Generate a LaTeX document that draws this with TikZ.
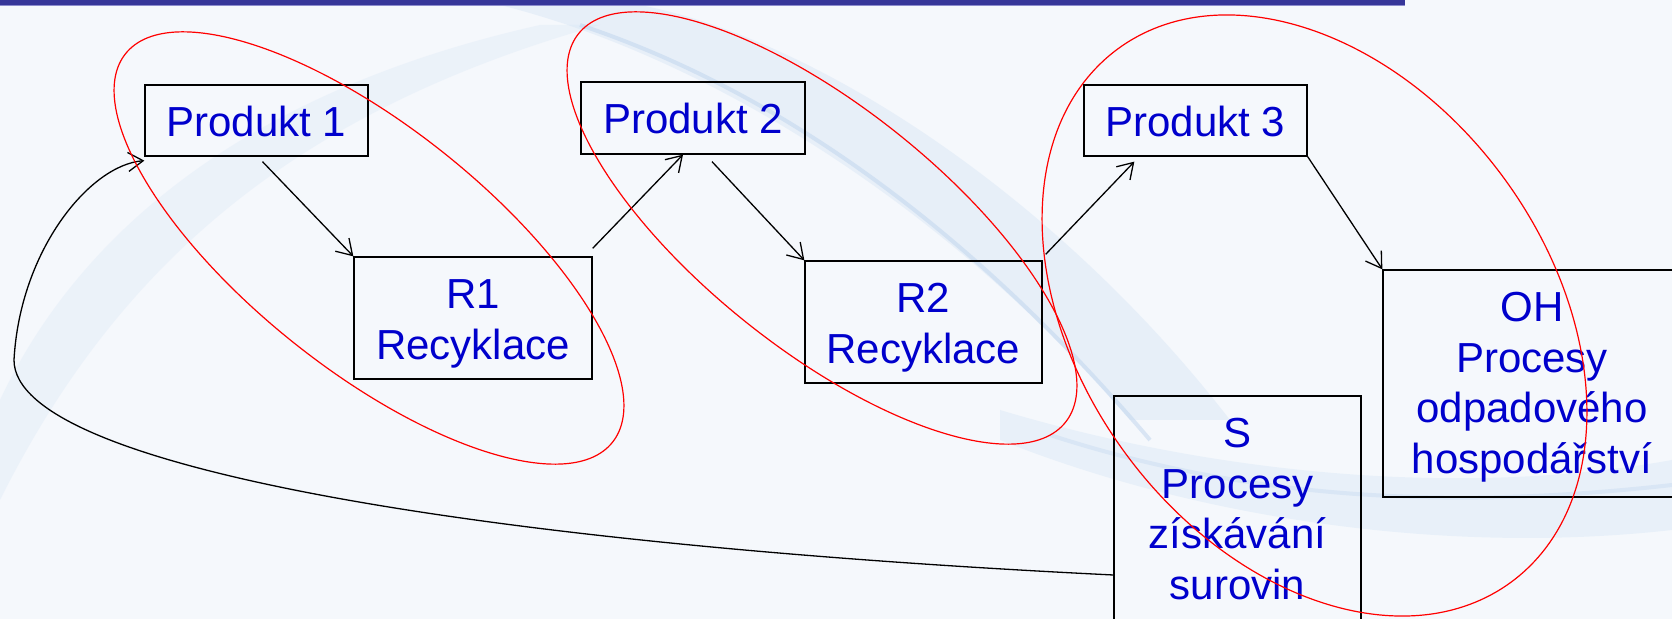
\documentclass[tikz,border=0pt]{standalone}
\usepackage{fontspec}
\setmainfont{Liberation Sans}
\usetikzlibrary{arrows.meta}
\definecolor{slidebar}{RGB}{54,54,153}
\definecolor{slideline}{RGB}{140,140,205}
\definecolor{slidebg}{RGB}{245,248,252}
\definecolor{swoosh}{RGB}{214,229,245}
\definecolor{streak}{RGB}{190,212,238}
\definecolor{textblue}{RGB}{0,0,204}
\definecolor{ringred}{RGB}{255,0,0}
\tikzstyle{arrow} = [line width=0.65pt,-{Straight Barb[length=7.5pt,width=9.5pt]}]
\tikzstyle{procbox} = [draw,line width=0.65pt,inner sep=0pt,text=textblue,font=\fontsize{21}{25.3}\selectfont]
\tikzstyle{ring} = [draw=ringred,line width=0.6pt]
\newcommand{\boxtext}[3]{\parbox[c][#2][t]{#1}{\centering\rule{0pt}{25.75pt}#3}}

\begin{document}
\begin{tikzpicture}[x=0.5pt,y=-0.5pt]
\useasboundingbox (0,0) rectangle (1672,619);
\clip (0,0) rectangle (1672,619);

% Slide background
\fill[slidebg] (0,0) rectangle (1672,619);
\fill[swoosh, opacity=0.3] (0,400) .. controls (80,230) and (250,90) .. (540,25)
    -- (600,25) .. controls (300,110) and (120,260) .. (0,500) -- cycle;
\fill[swoosh, opacity=0.45] (500,5) .. controls (720,60) and (960,220) .. (1130,420)
    -- (1230,420) .. controls (1060,200) and (820,40) .. (640,5) -- cycle;
\draw[streak, line width=2pt, opacity=0.5] (580,25) .. controls (790,95) and (980,240) .. (1150,440);
\fill[swoosh, opacity=0.4] (1000,410) .. controls (1200,470) and (1450,500) .. (1672,460)
    -- (1672,530) .. controls (1450,555) and (1200,520) .. (1000,440) -- cycle;
\draw[streak, line width=2pt, opacity=0.35] (1050,435) .. controls (1250,500) and (1450,510) .. (1672,485);

% Title bar
\fill[slidebar] (0,0) rectangle (1405,5);
\fill[slideline] (0,5) rectangle (1405,6.5);

% Products
\node[procbox] (P1) at (256.5,120.5) {\boxtext{111.5pt}{35.5pt}{Produkt 1}};
\node[procbox] (P2) at (693,118) {\boxtext{112pt}{36pt}{Produkt 2}};
\node[procbox] (P3) at (1195.5,120.5) {\boxtext{111.5pt}{35.5pt}{Produkt 3}};

% Processes
\node[procbox] (R1) at (473,318) {\boxtext{119pt}{61pt}{R1\\Recyklace}};
\node[procbox] (R2) at (923.5,322) {\boxtext{118.5pt}{61pt}{R2\\Recyklace}};
\node[procbox] (S) at (1237.5,575) {\boxtext{123.5pt}{179pt}{S\\Procesy\\získávání\\surovin}};
\node[procbox] (OH) at (1532,383.5) {\boxtext{149pt}{113.5pt}{OH\\Procesy\\odpadového\\hospodářství}};

% Flows
\draw[arrow] ([xshift=3pt,yshift=-2.5pt]P1.south) -- (R1.north west);
\draw[arrow] ([yshift=4pt]R1.north east) -- ([xshift=-5pt]P2.south);
\draw[arrow] ([xshift=9.5pt,yshift=-3.5pt]P2.south) -- (R2.north west);
\draw[arrow] ([xshift=1.5pt,yshift=3pt]R2.north east) -- ([xshift=25.5pt,yshift=-2.5pt]P3.south west);
\draw[arrow] (P3.south east) -- (OH.north west);
\draw[arrow] (S.west) .. controls (500,545) and (14,470) .. (14,360)
    .. controls (20,250) and (90,165) .. ([yshift=-2pt]P1.south west);

% Loops
\draw[ring, rotate around={-38.6:(369,248)}] (369,248) ellipse [x radius=155.75pt, y radius=60.5pt];
\draw[ring, rotate around={-38.6:(822,228)}] (822,228) ellipse [x radius=155.75pt, y radius=60.5pt];
\draw[ring, rotate around={-53.5:(1314.5,315.5)}] (1314.5,315.5) ellipse [x radius=165.65pt, y radius=117pt];
\end{tikzpicture}
\end{document}
